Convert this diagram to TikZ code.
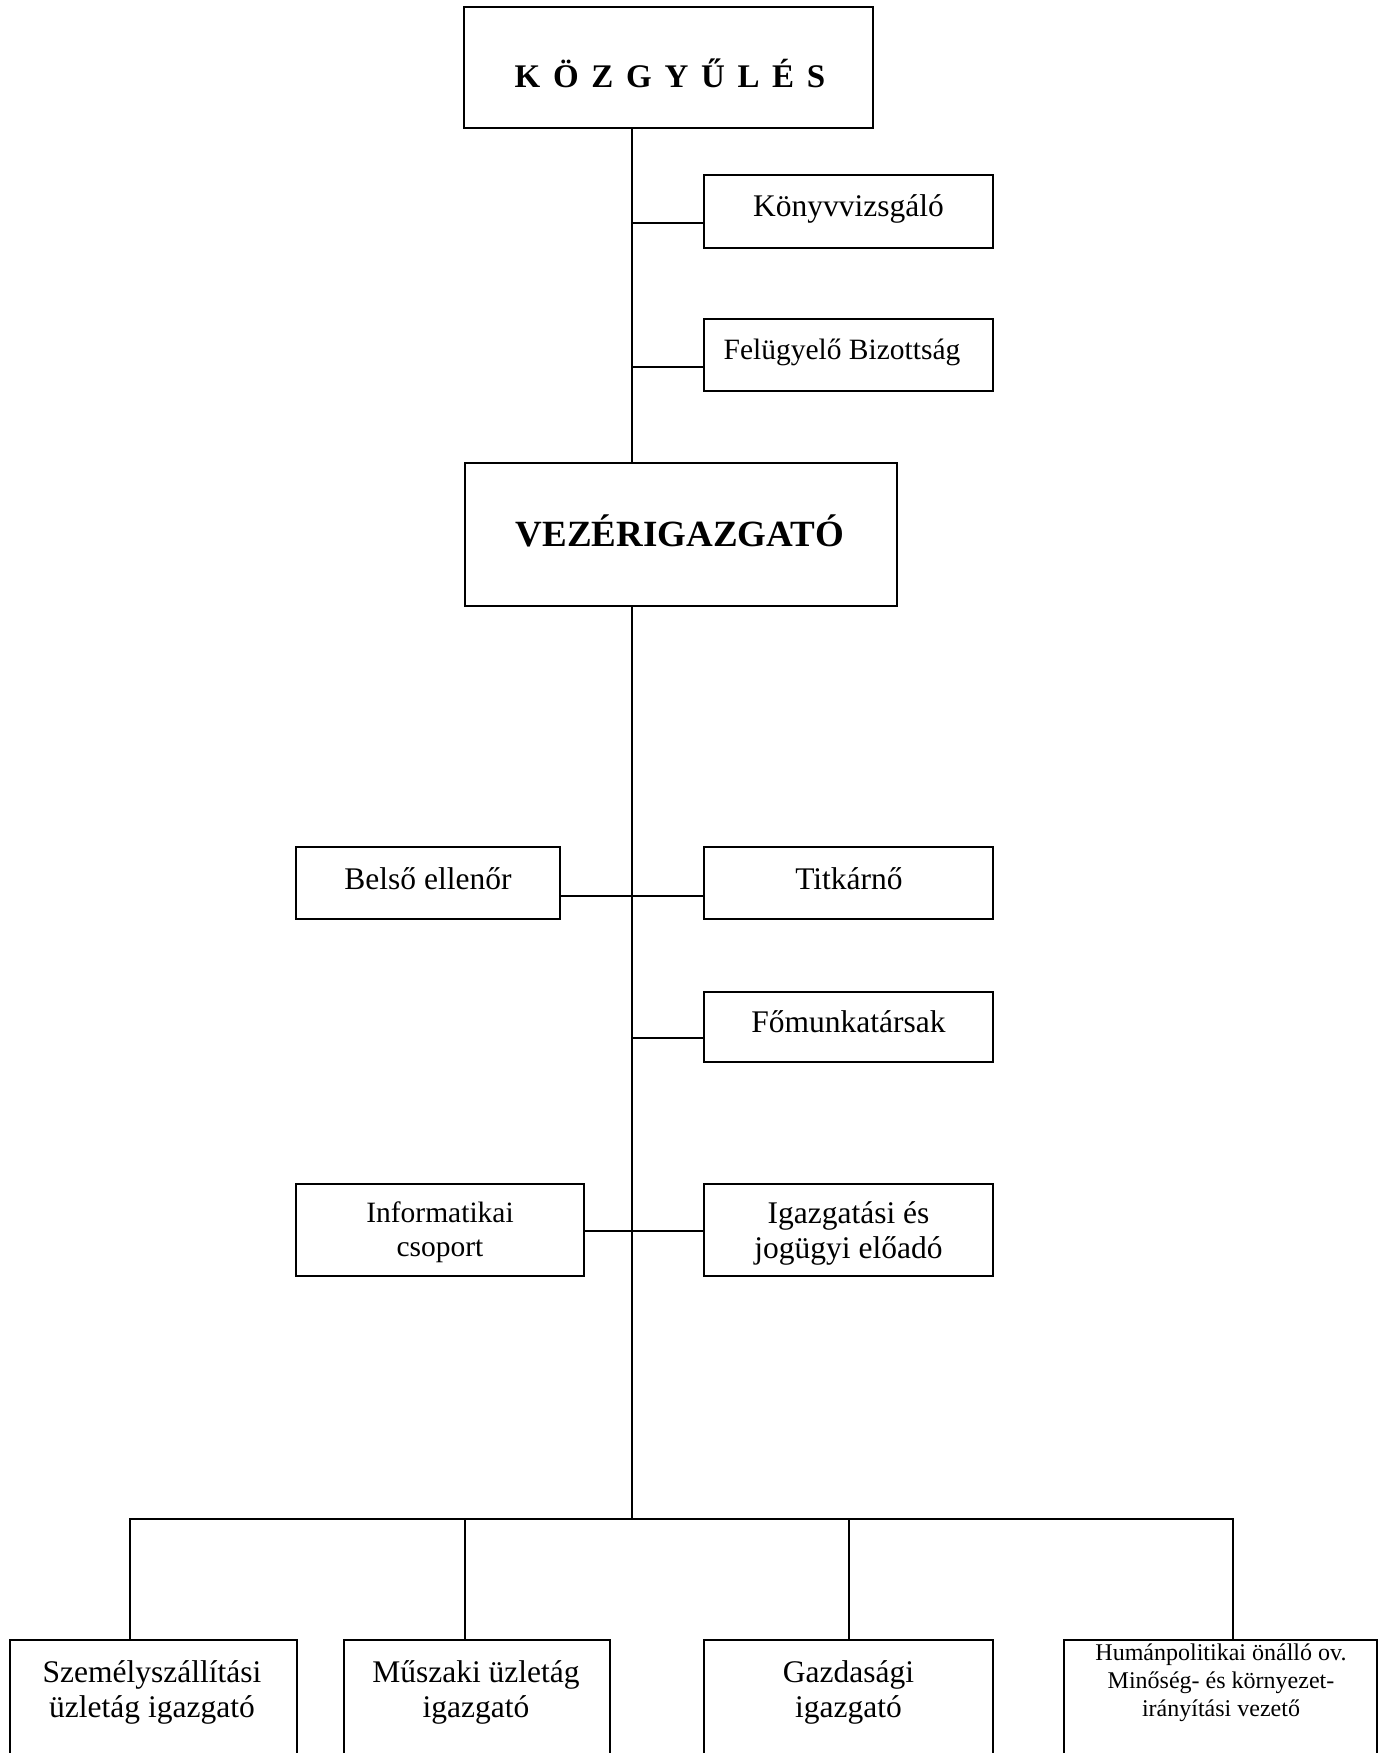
\documentclass[tikz,border=0pt]{standalone}
\usepackage{fontspec}
\setmainfont{Liberation Serif}
\usetikzlibrary{calc}

\tikzset{
  box/.style={draw, line width=2pt, rectangle, inner sep=0pt},
  wire/.style={line width=2pt},
  lbl/.style={anchor=base, inner sep=0pt, font=\fontsize{31.5}{36}\selectfont},
  lblsmall/.style={anchor=base, inner sep=0pt, font=\fontsize{29.5}{33}\selectfont},
  lbltiny/.style={anchor=base, inner sep=0pt, font=\fontsize{24}{28}\selectfont},
  title/.style={anchor=base, inner sep=0pt, font=\bfseries\fontsize{33}{38}\selectfont},
  bigtitle/.style={anchor=base, inner sep=0pt, font=\bfseries\fontsize{37}{42}\selectfont},
}

\begin{document}
\begin{tikzpicture}[x=1pt, y=-1pt]
\useasboundingbox (0,0) rectangle (1383,1753);
\clip (0,0) rectangle (1383,1753);

% --- boxes ---
\node[box, minimum width=409pt, minimum height=121pt] (kgy)    at (668.5,67.5) {};
\node[box, minimum width=289pt, minimum height=73pt]  (konyv)  at (848.5,211.5) {};
\node[box, minimum width=289pt, minimum height=72pt]  (felu)   at (848.5,355) {};
\node[box, minimum width=432pt, minimum height=143pt] (vez)    at (681,534.5) {};
\node[box, minimum width=264pt, minimum height=72pt]  (belso)  at (428,883) {};
\node[box, minimum width=289pt, minimum height=72pt]  (titk)   at (848.5,883) {};
\node[box, minimum width=289pt, minimum height=70pt]  (fomunk) at (848.5,1027) {};
\node[box, minimum width=288pt, minimum height=92pt]  (inf)    at (440,1230) {};
\node[box, minimum width=289pt, minimum height=92pt]  (igaz)   at (848.5,1230) {};
\node[box, minimum width=287pt, minimum height=150pt] (szem)   at (153.5,1715) {};
\node[box, minimum width=266pt, minimum height=150pt] (musz)   at (477,1715) {};
\node[box, minimum width=289pt, minimum height=150pt] (gazd)   at (848.5,1715) {};
\node[box, minimum width=313pt, minimum height=150pt] (hum)    at (1220.5,1715) {};

% --- labels ---
\node[title] (kgy-t) at (670,88)
  {K\hspace{12.7pt}Ö\hspace{12.7pt}Z\hspace{12.7pt}G\hspace{12.7pt}Y\hspace{12.7pt}Ű\hspace{12.7pt}L\hspace{12.7pt}É\hspace{12.7pt}S};
\node[lbl] (konyv-t) at (848.5,216) {Könyvvizsgáló};
\node[lbl, font=\fontsize{29.5}{34}\selectfont] (felu-t) at (842,359) {Felügyelő Bizottság};
\node[bigtitle] (vez-t) at (680,546) {VEZÉRIGAZGATÓ};
\node[lbl] (belso-t) at (428,889) {Belső ellenőr};
\node[lbl] (titk-t) at (849,889) {Titkárnő};
\node[lbl] (fomunk-t) at (848.5,1032) {Főmunkatársak};
\node[lblsmall] (inf-t1) at (440,1222) {Informatikai};
\node[lblsmall] (inf-t2) at (440,1256) {csoport};
\node[lbl] (igaz-t1) at (848.5,1223) {Igazgatási és};
\node[lbl] (igaz-t2) at (848.5,1258) {jogügyi előadó};
\node[lbl] (szem-t1) at (152,1682) {Személyszállítási};
\node[lbl] (szem-t2) at (152,1717) {üzletág igazgató};
\node[lbl] (musz-t1) at (476,1682) {Műszaki üzletág};
\node[lbl] (musz-t2) at (476,1717) {igazgató};
\node[lbl] (gazd-t1) at (848.5,1682) {Gazdasági};
\node[lbl] (gazd-t2) at (848.5,1717) {igazgató};
\node[lbltiny] (hum-t1) at (1221,1660) {Humánpolitikai önálló ov.};
\node[lbltiny] (hum-t2) at (1221,1688) {Minőség- és környezet-};
\node[lbltiny] (hum-t3) at (1221,1716) {irányítási vezető};

% --- spine, junction points and bus ---
\coordinate (sp)  at (632,0);
\coordinate (j1)  at (632,223);
\coordinate (j2)  at (632,367);
\coordinate (j3)  at (632,896);
\coordinate (j4)  at (632,1037.5);
\coordinate (j5)  at (632,1231);
\coordinate (bus) at (632,1519);
\coordinate (b1)  at (130,1519);
\coordinate (b2)  at (465,1519);
\coordinate (b3)  at (849,1519);
\coordinate (b4)  at (1233,1519);

% --- connectors ---
\draw[wire] (kgy.south -| sp) -- (vez.north -| sp);
\draw[wire] (vez.south -| sp) -- (bus);
\draw[wire] (j1) -- (j1 -| konyv.west);
\draw[wire] (j2) -- (j2 -| felu.west);
\draw[wire] (j3 -| belso.east) -- (j3 -| titk.west);
\draw[wire] (j4) -- (j4 -| fomunk.west);
\draw[wire] (j5 -| inf.east) -- (j5 -| igaz.west);

\draw[wire] (szem.north -| b1) -- (b1) -- (b4) -- (hum.north -| b4);
\draw[wire] (musz.north -| b2) -- (b2);
\draw[wire] (gazd.north -| b3) -- (b3);
\end{tikzpicture}
\end{document}
